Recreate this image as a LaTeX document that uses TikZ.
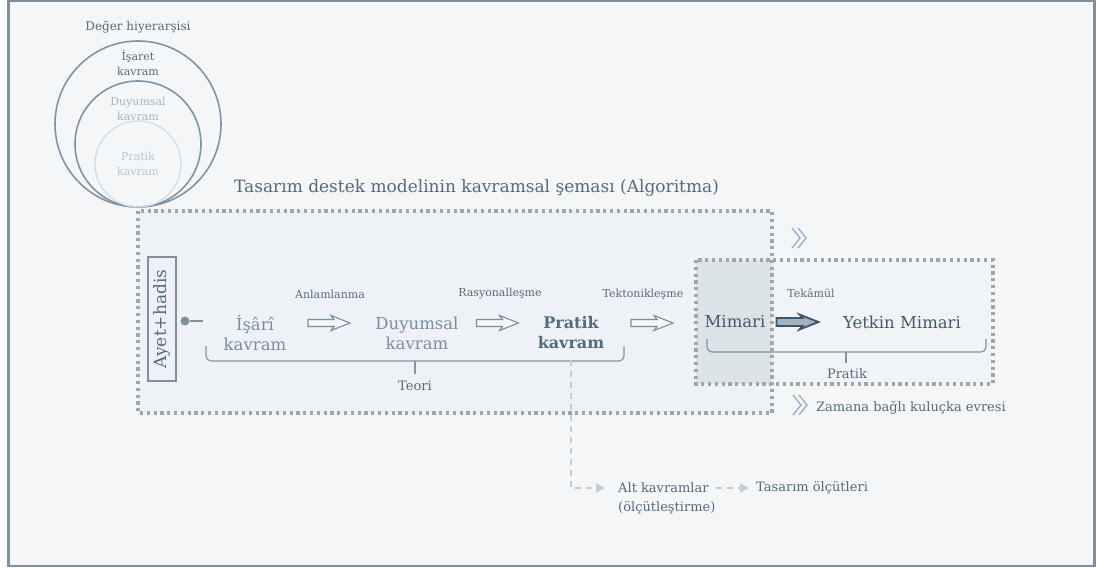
\documentclass[tikz,border=0pt]{standalone}
\usepackage{fontspec}
\setmainfont{DejaVu Serif}
\usetikzlibrary{arrows.meta}
\definecolor{paper}{HTML}{F4F6F8}
\definecolor{framecol}{HTML}{7D909C}
\definecolor{ink}{HTML}{566A7E}
\definecolor{darkink}{HTML}{45596C}
\definecolor{softink}{HTML}{7A8EA0}
\definecolor{pale}{HTML}{A5B6C5}
\definecolor{paler}{HTML}{BAC6CF}
\definecolor{ringcol}{HTML}{7F95A6}
\definecolor{ringfaint}{HTML}{D5DDE2}
\definecolor{dotcol}{HTML}{A2A6AA}
\definecolor{zone}{HTML}{EEF2F6}
\definecolor{shadecol}{HTML}{DCE3E7}
\definecolor{dashcol}{HTML}{C3CCD3}
\definecolor{chevcol}{HTML}{9CB1C3}
\definecolor{darkarrow}{HTML}{3E5467}
\definecolor{arrowfill}{HTML}{9FB3C3}
\tikzset{chevs/.pic={\draw[chevcol,line width=1.4pt] (-8,-10)--(0,0)--(-8,10) (-2,-10)--(6,0)--(-2,10);},
  fatarrow/.pic={\path[pic actions] (-21,-#1)--(5,-#1)--(2,-7.5)--(21,0)--(2,7.5)--(5,#1)--(-21,#1)--cycle;}}
\begin{document}
\begin{tikzpicture}[x=1pt,y=-1pt,
  txt/.style={text=ink,inner sep=1pt},
  big/.style={txt,font=\fontsize{16.5}{20}\selectfont,align=center},
  small/.style={txt,font=\fontsize{11}{15}\selectfont,align=center},
  mid/.style={txt,font=\fontsize{13}{17}\selectfont},
  dotbox/.style={draw=dotcol,line width=3.2pt,dash pattern=on 3.2pt off 3.6pt},
  hollow/.style={draw=softink,fill=paper,line width=1.1pt,line join=miter},
  boldarrow/.style={draw=darkarrow,fill=arrowfill,line width=1.8pt,line join=miter},
  bracket/.style={draw=ringcol,line width=1.2pt,rounded corners=5pt},
  dashln/.style={draw=dashcol,line width=1.4pt,dash pattern=on 6pt off 5pt,-{Triangle[length=9pt,width=9pt]}}]
\useasboundingbox (0,0) rectangle (1096,568);
\fill[paper] (8.5,1) rectangle (1094.5,566);
\draw[framecol,line width=2.5pt] (8.5,1) rectangle (1094.5,566);

\node[small,font=\fontsize{12}{15}\selectfont] (deger) at (138,27) {Değer hiyerarşisi};
\draw[ringcol,line width=1.6pt] (138,124) circle (83);
\draw[ringcol,line width=1.6pt] (138,144) circle (63);
\draw[ringfaint,line width=1.3pt] (138,164) circle (43);
\node[small] (isaret) at (138,63.5) {İşaret\\kavram};
\node[small,text=pale] (duyc) at (138,108.5) {Duyumsal\\kavram};
\node[small,text=paler] (pratc) at (138,163.5) {Pratik\\kavram};

\node[txt,font=\fontsize{17}{20}\selectfont,anchor=west] (baslik) at (233,188) {Tasarım destek modelinin kavramsal şeması (Algoritma)};

\fill[zone] (138,211) rectangle (772,413);
\fill[zone!50!paper] (772,260) rectangle (993,384);
\fill[shadecol] (696,260) rectangle (772,384);
\draw[dotbox] (138,211) rectangle (772,413);
\draw[dotbox] (696,260) rectangle (993,384);

\node[txt,font=\fontsize{17}{20}\selectfont,draw=framecol,line width=1.2pt,rotate=90,
  minimum width=124pt,minimum height=28pt,inner sep=0pt] (ayet) at (162,319) {Ayet+hadis};
\node[circle,fill=framecol,inner sep=0pt,minimum size=9pt] (dot) at (185,321) {};
\coordinate (stub) at (203,321);
\draw[framecol,line width=1.4pt] (dot) -- (stub);

\node[big,text=softink] (isari) at (255,333) {İşârî\\kavram};
\node[big,text=softink] (duyum) at (417,333) {Duyumsal\\kavram};
\node[big,font=\bfseries\fontsize{16}{20}\selectfont] (pratik) at (571,333) {Pratik\\kavram};
\node[big,text=darkink] (mimari) at (735,322) {Mimari};
\node[big,text=darkink] (yetkin) at (902,322) {Yetkin Mimari};

\pic[hollow] (a1) at (329,323) {fatarrow=3.5};
\pic[hollow] (a2) at (497.5,323) {fatarrow=3.5};
\pic[hollow] (a3) at (652,323) {fatarrow=3.5};
\pic[boldarrow] (a4) at (797.5,322) {fatarrow=4};
\node[small] (l1) at (330,294) {Anlamlanma};
\node[small] (l2) at (500,294) {Rasyonalleşme};
\node[small] (l3) at (643,294) {Tektonikleşme};
\node[small] (l4) at (811,293) {Tekâmül};

\draw[bracket] (206,346) |- (624,361) -- (624,346);
\draw[bracket] (415,361) -- (415,374);
\node[mid] (teori) at (415,386) {Teori};
\draw[bracket] (707,339) |- (986,352) -- (986,339);
\draw[bracket] (846,352) -- (846,363);
\node[mid] (pratiklbl) at (847,374) {Pratik};

\pic at (800,238) {chevs};
\pic at (801,405) {chevs};
\node[mid,anchor=west] (kulucka) at (815,408) {Zamana bağlı kuluçka evresi};

\node[mid,anchor=west] (alt) at (617,488) {Alt kavramlar};
\node[mid,anchor=west] (altsub) at (617,508) {(ölçütleştirme)};
\node[mid,anchor=west] (olcut) at (755,488) {Tasarım ölçütleri};
\draw[dashln,shorten <=10pt,shorten >=12pt] (pratik.south) |- (alt.west);
\draw[dashln,shorten <=6pt,shorten >=6pt] (alt.east) -- (olcut.west);
\end{tikzpicture}
\end{document}
